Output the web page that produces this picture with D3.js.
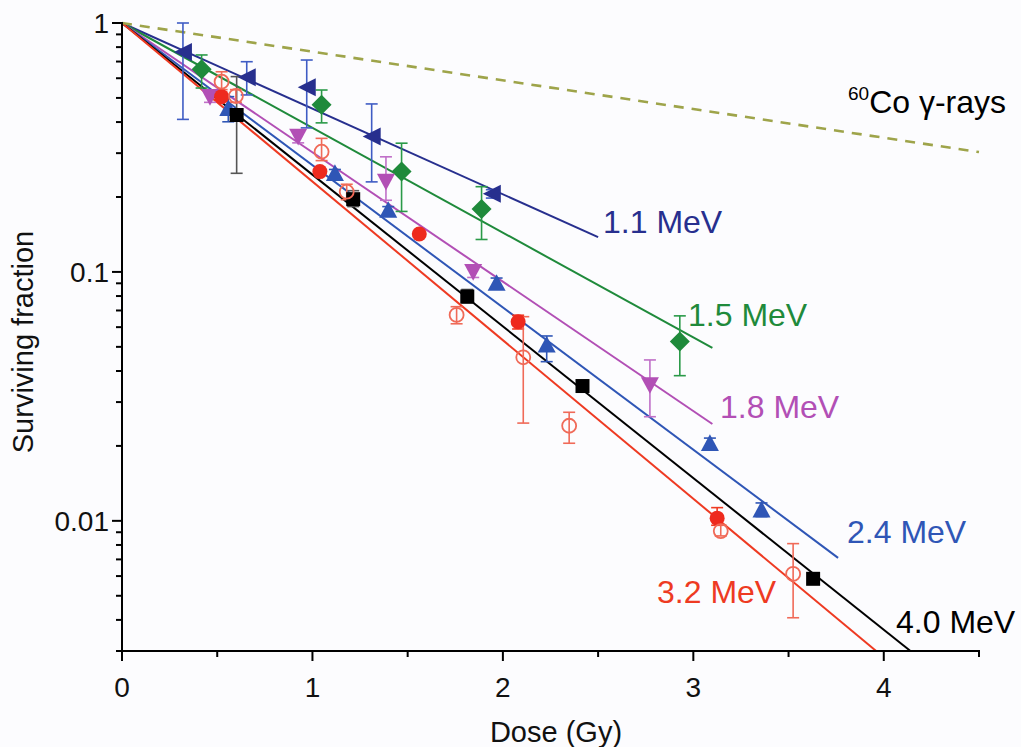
<!DOCTYPE html>
<html><head><meta charset="utf-8">
<script src="https://cdn.jsdelivr.net/npm/d3@7"></script>
<style>body{margin:0;background:#fcfcfe} svg{display:block} text{font-family:"Liberation Sans",Arial,sans-serif}</style>
</head><body><svg id="chart" width="1021" height="747"></svg>
<script>
// ---- data ----
const xTicks = [0, 1, 2, 3, 4];
const xMinorTicks = [0.5, 1.5, 2.5, 3.5, 4.5];
const yTicks = [1, 0.1, 0.01];
const yTickLabels = ["1", "0.1", "0.01"];

// 1.1 MeV (left triangles)
const dose11 = [0.32, 0.655, 0.97, 1.311, 1.942];
const sf11   = [0.765, 0.605, 0.552, 0.350, 0.206];
const lo11   = [0.41, 0.514, 0.379, 0.230, 0.198];
const hi11   = [1.0, 0.699, 0.710, 0.473, 0.214];
// 1.5 MeV (diamonds)
const dose15 = [0.418, 1.048, 1.468, 1.888, 2.929];
const sf15   = [0.652, 0.469, 0.253, 0.179, 0.0525];
const lo15   = [0.548, 0.397, 0.175, 0.135, 0.0383];
const hi15   = [0.744, 0.538, 0.329, 0.220, 0.0666];
// 1.8 MeV (down triangles)
const dose18 = [0.462, 0.925, 1.386, 1.844, 2.772];
const sf18   = [0.506, 0.350, 0.231, 0.1002, 0.0352];
const lo18   = [0.48, 0.33, 0.194, 0.095, 0.0262];
const hi18   = [0.53, 0.37, 0.290, 0.105, 0.0443];
// 2.4 MeV (up triangles)
const dose24 = [0.558, 1.118, 1.398, 1.967, 2.23, 3.087, 3.358];
const sf24   = [0.454, 0.249, 0.177, 0.0901, 0.0509, 0.0205, 0.01107];
const lo24   = [0.401, 0.24, 0.170, 0.0862, 0.0436, 0.0195, 0.0104];
const hi24   = [0.506, 0.258, 0.183, 0.0945, 0.0553, 0.0215, 0.0118];
// 4.0 MeV (squares)
const dose40 = [0.602, 1.214, 1.813, 2.418, 3.629];
const sf40   = [0.427, 0.196, 0.0796, 0.0348, 0.00585];
const lo40   = [0.249, 0.183, 0.075, null, null];
const hi40   = [0.609, 0.212, 0.085, null, null];
// 3.2 MeV (filled circles)
const dose32 = [0.523, 1.039, 1.561, 2.08, 3.125];
const sf32   = [0.506, 0.253, 0.142, 0.0631, 0.01025];
const lo32   = [null, null, null, 0.059, 0.0096];
const hi32   = [null, null, null, 0.067, 0.0113];
// 3.2 MeV (open circles)
const dose32o = [0.523, 0.598, 1.048, 1.18, 1.757, 2.107, 2.348, 3.144, 3.524];
const sf32o   = [0.581, 0.509, 0.304, 0.21, 0.0672, 0.0454, 0.0241, 0.0091, 0.00612];
const lo32o   = [0.54, 0.48, 0.28, 0.195, 0.0619, 0.0247, 0.0205, 0.0087, 0.00408];
const hi32o   = [0.637, 0.54, 0.344, 0.225, 0.0725, 0.0661, 0.0273, 0.0096, 0.0081];

// fitted lines: start at (0,1), end points
const fitNames   = ["1.1 MeV", "1.5 MeV", "1.8 MeV", "2.4 MeV", "4.0 MeV", "3.2 MeV", "60Co"];
const fitEndDose = [2.5, 3.1, 3.1, 3.76, 4.14, 3.96, 4.5];
const fitEndSF   = [0.138, 0.0495, 0.0245, 0.0071, 0.003, 0.003, 0.303];

// ---- drawing ----
const svg = d3.select("#chart");
const x = d3.scaleLinear().domain([0, 4.5]).range([122, 979]);
const y = d3.scaleLog().domain([0.003, 1]).range([651, 23]);

const colors = {
  "1.1 MeV": "#272f8e", "1.5 MeV": "#1f8a3b", "1.8 MeV": "#b24fb5",
  "2.4 MeV": "#2f56b6", "4.0 MeV": "#000000", "3.2 MeV": "#ee3a22", "60Co": "#9ea44a"
};

// fit lines
const lineGen = d3.line().x(d => x(d[0])).y(d => y(d[1]));
fitNames.forEach((n, i) => {
  svg.append("path")
    .attr("d", lineGen([[0, 1], [fitEndDose[i], fitEndSF[i]]]))
    .attr("fill", "none")
    .attr("stroke", colors[n])
    .attr("stroke-width", n === "60Co" ? 2.6 : 2)
    .attr("stroke-dasharray", n === "60Co" ? "10,8" : null);
});

// marker shapes
const shapes = {
  left: s => `M${-s},0L${s},${-s}L${s},${s}Z`,
  down: s => `M${-s},${-s * 0.85}L${s},${-s * 0.85}L0,${s}Z`,
  up: s => `M${-s},${s * 0.85}L${s},${s * 0.85}L0,${-s}Z`,
  diamond: s => `M0,${-s}L${s},0L0,${s}L${-s},0Z`,
  square: s => `M${-s},${-s}H${s}V${s}H${-s}Z`,
  circle: s => d3.symbol(d3.symbolCircle, Math.PI * s * s)()
};

const datasets = [
  { dose: dose11, sf: sf11, lo: lo11, hi: hi11, shape: "left", size: 9, fill: colors["1.1 MeV"], stroke: "none", err: "#3f5cc4" },
  { dose: dose15, sf: sf15, lo: lo15, hi: hi15, shape: "diamond", size: 10, fill: colors["1.5 MeV"], stroke: "none", err: "#2a9a48" },
  { dose: dose18, sf: sf18, lo: lo18, hi: hi18, shape: "down", size: 9, fill: colors["1.8 MeV"], stroke: "none", err: "#c070c8" },
  { dose: dose24, sf: sf24, lo: lo24, hi: hi24, shape: "up", size: 9, fill: colors["2.4 MeV"], stroke: "none", err: "#2f56b6" },
  { dose: dose40, sf: sf40, lo: lo40, hi: hi40, shape: "square", size: 7, fill: "#000", stroke: "none", err: "#555" },
  { dose: dose32, sf: sf32, lo: lo32, hi: hi32, shape: "circle", size: 7.5, fill: "#ee2a1e", stroke: "none", err: "#ee3a22" },
  { dose: dose32o, sf: sf32o, lo: lo32o, hi: hi32o, shape: "circle", size: 7, fill: "none", stroke: "#f06a58", err: "#f06a58" }
];

// error bars
datasets.forEach(ds => {
  const g = svg.append("g").attr("stroke", ds.err).attr("stroke-width", 1.6).attr("fill", "none");
  ds.dose.forEach((d, i) => {
    if (ds.lo[i] == null) return;
    const cx = x(d), y1 = y(ds.hi[i]), y2 = y(ds.lo[i]);
    g.append("line").attr("x1", cx).attr("x2", cx).attr("y1", y1).attr("y2", y2);
    g.append("line").attr("x1", cx - 6).attr("x2", cx + 6).attr("y1", y1).attr("y2", y1);
    g.append("line").attr("x1", cx - 6).attr("x2", cx + 6).attr("y1", y2).attr("y2", y2);
  });
});

// markers
datasets.forEach(ds => {
  svg.append("g").selectAll("path").data(ds.dose.map((d, i) => [d, ds.sf[i]])).join("path")
    .attr("transform", d => `translate(${x(d[0])},${y(d[1])})`)
    .attr("d", shapes[ds.shape](ds.size))
    .attr("fill", ds.fill)
    .attr("stroke", ds.stroke)
    .attr("stroke-width", ds.stroke === "none" ? 0 : 1.8);
});

// axes
const axisG = svg.append("g").attr("stroke", "#000").attr("stroke-width", 2).attr("fill", "none");
axisG.append("line").attr("x1", x(0)).attr("x2", x(0)).attr("y1", y(1) - 1).attr("y2", y(0.003) + 1);
axisG.append("line").attr("x1", x(0) - 1).attr("x2", x(4.5) + 1).attr("y1", y(0.003)).attr("y2", y(0.003));

xTicks.forEach(t => axisG.append("line").attr("x1", x(t)).attr("x2", x(t)).attr("y1", y(0.003)).attr("y2", y(0.003) + 10));
xMinorTicks.forEach(t => axisG.append("line").attr("x1", x(t)).attr("x2", x(t)).attr("y1", y(0.003)).attr("y2", y(0.003) + 6));

yTicks.forEach(t => axisG.append("line").attr("x1", x(0) - 10).attr("x2", x(0)).attr("y1", y(t)).attr("y2", y(t)));
const yMinor = [];
[0.001, 0.01, 0.1].forEach(dec => { for (let k = 2; k <= 9; k++) { const v = dec * k; if (v >= 0.003 && v < 1) yMinor.push(v); } });
yMinor.forEach(t => axisG.append("line").attr("x1", x(0) - 6).attr("x2", x(0)).attr("y1", y(t)).attr("y2", y(t)));

// tick labels
svg.append("g").selectAll("text").data(xTicks).join("text")
  .attr("x", d => x(d)).attr("y", y(0.003) + 46)
  .attr("text-anchor", "middle").attr("font-size", 28).attr("fill", "#111")
  .text(d => d);
svg.append("g").selectAll("text").data(yTicks).join("text")
  .attr("x", x(0) - 13).attr("y", d => y(d) + 10)
  .attr("text-anchor", "end").attr("font-size", 28).attr("fill", "#111")
  .text((d, i) => yTickLabels[i]);

// axis titles
svg.append("text").attr("x", 556).attr("y", 742).attr("text-anchor", "middle")
  .attr("font-size", 29).attr("fill", "#111").text("Dose (Gy)");
svg.append("text").attr("transform", "translate(33,342) rotate(-90)").attr("text-anchor", "middle")
  .attr("font-size", 29).attr("fill", "#111").text("Surviving fraction");

// line labels
const labelPos = [
  ["1.1 MeV", 603, 233], ["1.5 MeV", 688, 326], ["1.8 MeV", 720, 418],
  ["2.4 MeV", 847, 543], ["3.2 MeV", 657, 603], ["4.0 MeV", 896, 633]
];
labelPos.forEach(([n, lx, ly]) => {
  svg.append("text").attr("x", lx).attr("y", ly).attr("font-size", 32)
    .attr("fill", colors[n] === "#000000" ? "#000" : colors[n]).text(n);
});
const co = svg.append("text").attr("x", 848).attr("y", 113).attr("font-size", 32).attr("fill", "#000");
co.append("tspan").attr("font-size", 19).attr("dy", -13).text("60");
co.append("tspan").attr("dy", 13).text("Co γ-rays");
</script></body></html>
